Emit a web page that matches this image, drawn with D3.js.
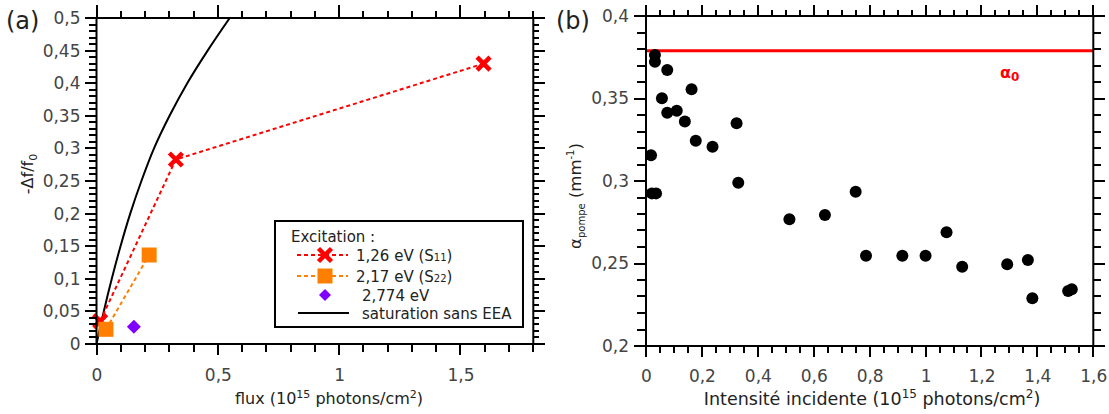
<!DOCTYPE html>
<html><head><meta charset="utf-8">
<script src="https://cdn.jsdelivr.net/npm/d3@7"></script>
<style>
body{margin:0;background:#fff;}
svg{font-family:"DejaVu Sans",sans-serif;}
</style></head>
<body><svg id="c" width="1109" height="414"></svg>
<script>
// ---------- Panel (a) data ----------
const redFlux = [0.015, 0.327, 1.595];
const redDf   = [0.035, 0.283, 0.430];
const orangeFlux = [0.039, 0.217];
const orangeDf   = [0.0225, 0.1365];
const purpleFlux = [0.154];
const purpleDf   = [0.0266];
const satFlux = [0, 0.030, 0.063, 0.099, 0.139, 0.185, 0.237, 0.301, 0.374, 0.458, 0.549];
const satDf   = [0, 0.05, 0.10, 0.15, 0.20, 0.25, 0.30, 0.35, 0.40, 0.45, 0.50];
const aXTicks = [0, 0.5, 1, 1.5];
const aYTicks = [0, 0.05, 0.1, 0.15, 0.2, 0.25, 0.3, 0.35, 0.4, 0.45, 0.5];

// ---------- Panel (b) data ----------
const bIntens = [0.032,0.032,0.076,0.163,0.057,0.076,0.110,0.139,0.324,0.178,0.238,0.018,0.330,0.021,0.036,
                 0.513,0.640,0.750,0.787,0.917,1.000,1.075,1.131,1.292,1.366,1.382,1.510,1.523];
const bAlpha  = [0.3764,0.3723,0.3673,0.3556,0.3501,0.3414,0.3426,0.3360,0.3350,0.3244,0.3208,0.3156,0.2990,0.2925,0.2925,
                 0.2768,0.2794,0.2935,0.2547,0.2547,0.2547,0.2689,0.2481,0.2495,0.2521,0.2289,0.2333,0.2344];
const alpha0 = 0.379;
const bXTicks = [0, 0.2, 0.4, 0.6, 0.8, 1, 1.2, 1.4, 1.6];
const bYTicks = [0.2, 0.25, 0.3, 0.35, 0.4];

const loc = d3.formatLocale({decimal: ",", thousands: " ", grouping: [3], currency: ["", ""]});
const fmt = v => loc.format(".2~f")(v);

const svg = d3.select("#c");
const TICKC = "#444", TITLEC = "#222";

function range(a, b, s) { const r = []; for (let i = 0; a + i * s <= b + 1e-9; i++) r.push(+(a + i * s).toFixed(4)); return r; }

function frame(g, x, y, xMajor, xMinor, yMajor, yMinor, L) {
  const [x0, x1] = x.range(), [y1, y0] = y.range();
  const tk = g.append("g").attr("stroke", "#000").attr("stroke-width", 2).attr("shape-rendering", "crispEdges");
  const isMaj = (arr, v) => arr.some(m => Math.abs(m - v) < 1e-6);
  xMinor.forEach(v => {
    const maj = isMaj(xMajor, v), px = Math.round(x(v));
    tk.append("line").attr("x1", px).attr("x2", px).attr("y1", y1).attr("y2", y1 + (maj ? L.bMaj : L.bMin));
    tk.append("line").attr("x1", px).attr("x2", px).attr("y1", y0).attr("y2", y0 - (maj ? L.tMaj : L.tMin));
  });
  yMinor.forEach(v => {
    const maj = isMaj(yMajor, v), py = Math.round(y(v));
    tk.append("line").attr("y1", py).attr("y2", py).attr("x1", x0).attr("x2", x0 - (maj ? L.lMaj : L.lMin));
    tk.append("line").attr("y1", py).attr("y2", py).attr("x1", x1).attr("x2", x1 + (maj ? L.rMaj : L.rMin));
  });
  const bb = g.append("g").attr("transform", `translate(0,${y1})`)
    .call(d3.axisBottom(x).tickValues(xMajor).tickSize(0).tickPadding(L.bPad).tickFormat(fmt));
  bb.select(".domain").remove();
  bb.selectAll("text").attr("fill", TICKC).style("font-size", L.fs + "px").style("font-family", "DejaVu Sans");
  const lb = g.append("g").attr("transform", `translate(${x0},0)`)
    .call(d3.axisLeft(y).tickValues(yMajor).tickSize(0).tickPadding(L.lPad).tickFormat(fmt));
  lb.select(".domain").remove();
  lb.selectAll("text").attr("fill", TICKC).style("font-size", L.fs + "px").style("font-family", "DejaVu Sans");
  g.append("rect").attr("x", x0).attr("y", y0).attr("width", x1 - x0).attr("height", y1 - y0)
    .attr("fill", "none").attr("stroke", "#000").attr("stroke-width", 2);
}

// ================= Panel (a) =================
const ga = svg.append("g");
const xa = d3.scaleLinear().domain([0, 1.8]).range([96.5, 533.3]);
const ya = d3.scaleLinear().domain([0, 0.5]).range([344, 18]);
const L = {fs: 17, bMin: 8, bMaj: 11, bPad: 25, tMin: 7, tMaj: 13, lMin: 8, lMaj: 12, lPad: 16, rMin: 6, rMaj: 12};

ga.append("defs").append("clipPath").attr("id", "clipA").append("rect")
  .attr("x", 96.5).attr("y", 18).attr("width", 533.3 - 96.5).attr("height", 326);

ga.append("path").datum(satFlux.map((v, i) => [v, satDf[i]]))
  .attr("clip-path", "url(#clipA)")
  .attr("d", d3.line().x(d => xa(d[0])).y(d => ya(d[1])).curve(d3.curveCatmullRom.alpha(0.5)))
  .attr("fill", "none").attr("stroke", "#000").attr("stroke-width", 2);

const lineA = d3.line().x(d => xa(d[0])).y(d => ya(d[1]));
const redPts = redFlux.map((v, i) => [v, redDf[i]]);
const orPts = orangeFlux.map((v, i) => [v, orangeDf[i]]);
ga.append("path").datum(redPts).attr("d", lineA).attr("fill", "none")
  .attr("stroke", "#ff0000").attr("stroke-width", 2).attr("stroke-dasharray", "4,3");
ga.append("path").datum(orPts).attr("d", lineA).attr("fill", "none")
  .attr("stroke", "#ff8000").attr("stroke-width", 2).attr("stroke-dasharray", "4,3");

function xMark(g, cx, cy, s) {
  g.append("path").attr("d", `M${cx - s},${cy - s}L${cx + s},${cy + s}M${cx - s},${cy + s}L${cx + s},${cy - s}`)
    .attr("stroke", "#ff0000").attr("stroke-width", 4.5).attr("fill", "none");
}
function sqMark(g, cx, cy, s) {
  g.append("rect").attr("x", cx - s).attr("y", cy - s).attr("width", 2 * s).attr("height", 2 * s).attr("fill", "#ff8000");
}
function diaMark(g, cx, cy, s) {
  g.append("path").attr("d", `M${cx},${cy - s}L${cx + s},${cy}L${cx},${cy + s}L${cx - s},${cy}Z`).attr("fill", "#8000ff");
}
redPts.forEach(d => xMark(ga, xa(d[0]), ya(d[1]), 6.5));
orPts.forEach(d => sqMark(ga, xa(d[0]), ya(d[1]), 7.5));
purpleFlux.forEach((v, i) => diaMark(ga, xa(v), ya(purpleDf[i]), 7));

frame(ga, xa, ya, aXTicks, range(0, 1.8, 0.1), aYTicks, range(0, 0.5, 0.01), L);

// legend
const lg = ga.append("g");
lg.append("rect").attr("x", 275).attr("y", 221).attr("width", 248).attr("height", 106)
  .attr("fill", "#fff").attr("stroke", "#000").attr("stroke-width", 2);
lg.append("text").attr("x", 291).attr("y", 242).text("Excitation :").style("font-size", "15px").attr("fill", TITLEC);
const legItems = [
  {y: 255, c: "#ff0000", dash: true, m: "x", t: "1,26 eV (S", sub: "11", tx: 356},
  {y: 276, c: "#ff8000", dash: true, m: "s", t: "2,17 eV (S", sub: "22", tx: 356},
  {y: 295, c: "#8000ff", dash: false, m: "d", t: "2,774 eV", tx: 362},
  {y: 313, c: "#000", dash: false, m: "l", t: "saturation sans EEA", tx: 362}
];
legItems.forEach(it => {
  if (it.dash) lg.append("line").attr("x1", 297).attr("x2", 348).attr("y1", it.y).attr("y2", it.y)
    .attr("stroke", it.c).attr("stroke-width", 2).attr("stroke-dasharray", "4,3");
  if (it.m === "x") xMark(lg, 325, it.y, 6.5);
  if (it.m === "s") sqMark(lg, 325, it.y, 7.5);
  if (it.m === "d") diaMark(lg, 325, it.y, 6);
  if (it.m === "l") lg.append("line").attr("x1", 298).attr("x2", 349).attr("y1", it.y).attr("y2", it.y)
    .attr("stroke", "#000").attr("stroke-width", 2);
  const t = lg.append("text").attr("x", it.tx).attr("y", it.y + 5.5).style("font-size", "15px").attr("fill", TITLEC);
  t.append("tspan").text(it.t);
  if (it.sub) { t.append("tspan").text(it.sub).style("font-size", "10px"); t.append("tspan").text(")"); }
});

const xt = ga.append("text").attr("x", 329).attr("y", 404).attr("text-anchor", "middle")
  .style("font-size", "16px").attr("fill", TITLEC);
xt.append("tspan").text("flux (10");
xt.append("tspan").text("15").attr("dy", -6).style("font-size", "11px");
xt.append("tspan").text(" photons/cm").attr("dy", 6);
xt.append("tspan").text("2").attr("dy", -6).style("font-size", "11px");
xt.append("tspan").text(")").attr("dy", 6);

const yt = ga.append("text").attr("transform", "translate(33,174) rotate(-90)").attr("text-anchor", "middle")
  .style("font-size", "16px").attr("fill", TITLEC);
yt.append("tspan").text("-Δf/f");
yt.append("tspan").text("0").attr("dy", 4).style("font-size", "11px");

ga.append("text").attr("x", 6).attr("y", 29).text("(a)").style("font-size", "24px").attr("fill", TITLEC);

// ================= Panel (b) =================
const gb = svg.append("g");
const xb = d3.scaleLinear().domain([0, 1.6]).range([646, 1093.3]);
const yb = d3.scaleLinear().domain([0.2, 0.4]).range([346, 16]);
const Lb = {fs: 17, bMin: 7, bMaj: 11, bPad: 24, tMin: 6, tMaj: 11, lMin: 9, lMaj: 12, lPad: 17, rMin: 8, rMaj: 12};

gb.append("line").attr("x1", xb(0)).attr("x2", xb(1.6)).attr("y1", yb(alpha0)).attr("y2", yb(alpha0))
  .attr("stroke", "#ff0000").attr("stroke-width", 3);

gb.selectAll("circle.pt").data(bIntens.map((v, i) => [v, bAlpha[i]])).enter().append("circle")
  .attr("class", "pt").attr("cx", d => xb(d[0])).attr("cy", d => yb(d[1])).attr("r", 6).attr("fill", "#000");

frame(gb, xb, yb, bXTicks, range(0, 1.6, 0.05), bYTicks, range(0.2, 0.4, 0.01), Lb);

const al = gb.append("text").attr("x", 1000).attr("y", 78).style("font-size", "16px").style("font-weight", "bold").attr("fill", "#ff0000");
al.append("tspan").text("α");
al.append("tspan").text("0").attr("dy", 3).style("font-size", "12px");

const xtb = gb.append("text").attr("x", 872).attr("y", 405).attr("text-anchor", "middle")
  .style("font-size", "17.5px").attr("fill", TITLEC);
xtb.append("tspan").text("Intensité incidente (10");
xtb.append("tspan").text("15").attr("dy", -7).style("font-size", "12px");
xtb.append("tspan").text(" photons/cm").attr("dy", 7);
xtb.append("tspan").text("2").attr("dy", -7).style("font-size", "12px");
xtb.append("tspan").text(")").attr("dy", 7);

const ytb = gb.append("text").attr("transform", "translate(581,196) rotate(-90)").attr("text-anchor", "middle")
  .style("font-size", "16.5px").attr("fill", TITLEC);
ytb.append("tspan").text("α");
ytb.append("tspan").text("pompe").attr("dy", 4).style("font-size", "10px");
ytb.append("tspan").text(" (mm").attr("dy", -4);
ytb.append("tspan").text("-1").attr("dy", -7).style("font-size", "10px");
ytb.append("tspan").text(")").attr("dy", 7);

gb.append("text").attr("x", 556).attr("y", 29).text("(b)").style("font-size", "24px").attr("fill", TITLEC);
</script>
</body></html>
